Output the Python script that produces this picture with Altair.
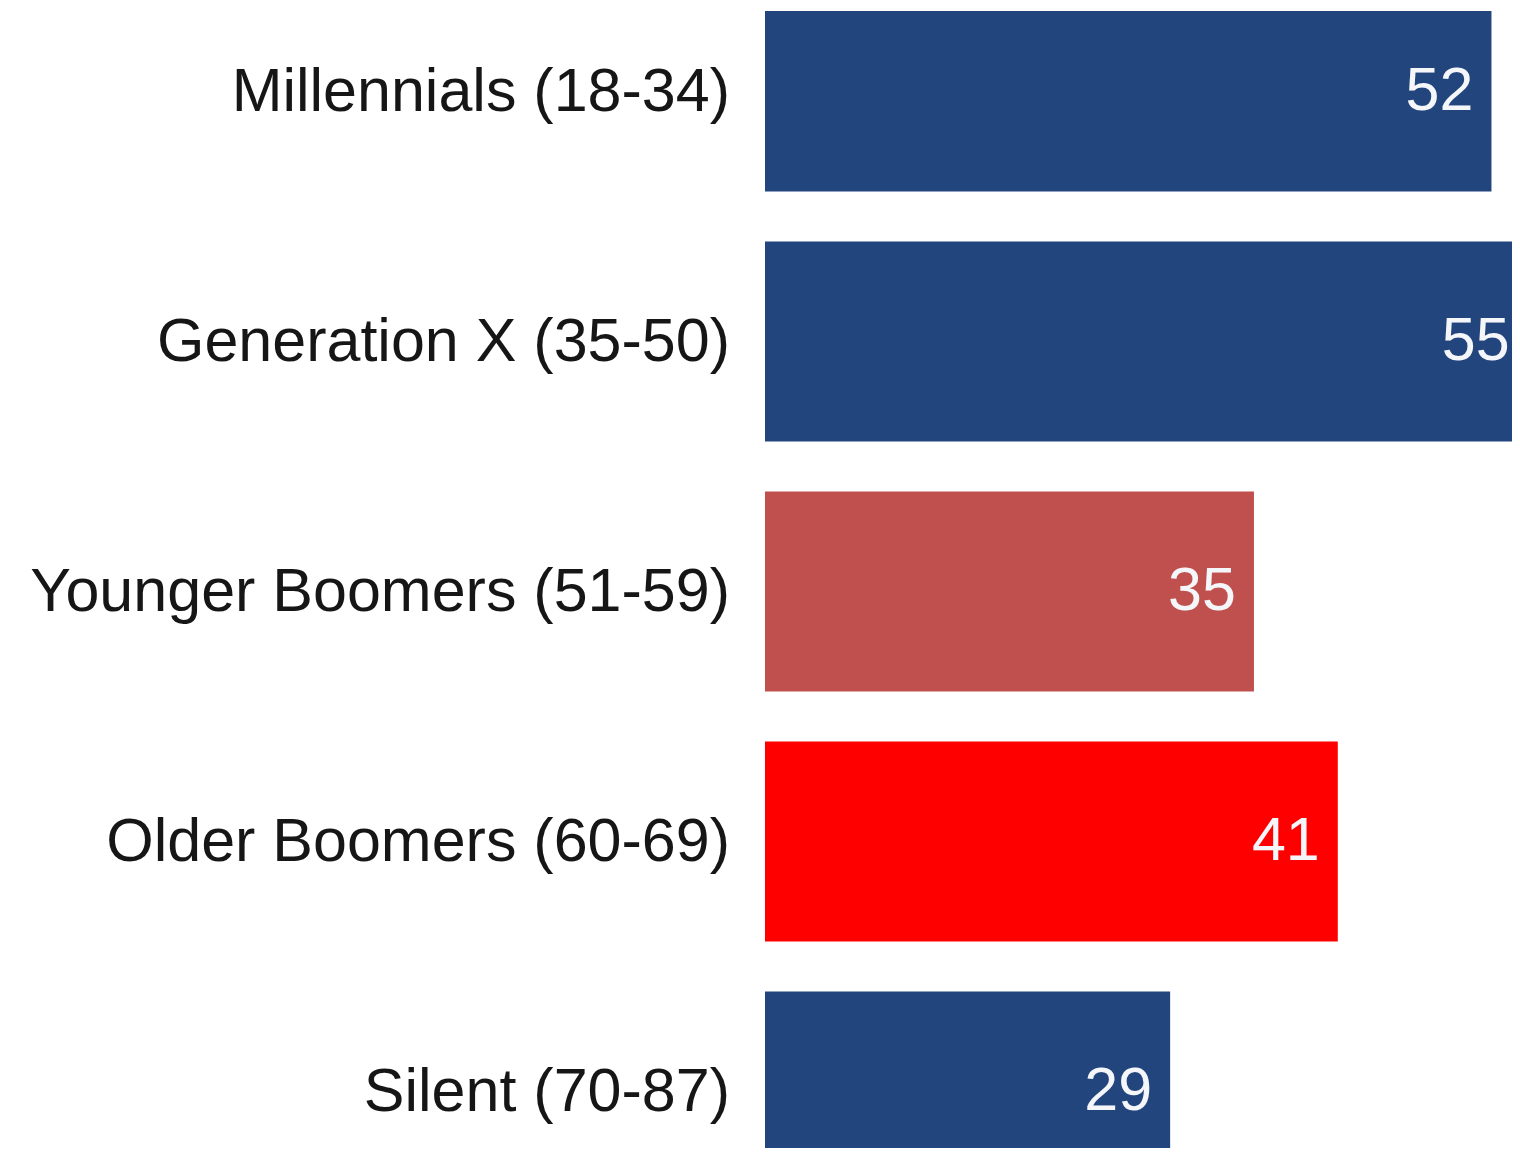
import altair as alt
import pandas as pd

categories = [
    "Millennials (18-34)",
    "Generation X (35-50)",
    "Younger Boomers (51-59)",
    "Older Boomers (60-69)",
    "Silent (70-87)",
]
values = [52, 55, 35, 41, 29]
bar_colors = ["#22457D", "#22457D", "#C0504D", "#FF0000", "#22457D"]

x_max = 53.47

df = pd.DataFrame({
    "category": categories,
    "value": values,
    "idx": list(range(len(categories))),
})

x_scale = alt.Scale(domain=[0, x_max], nice=False, zero=True)
y_scale = alt.Scale(domain=[-0.322, 4.226], nice=False, zero=False, reverse=True)
color_scale = alt.Scale(domain=categories, range=bar_colors)

base = alt.Chart(df).transform_calculate(
    lo="datum.idx - 0.4",
    hi="datum.idx + 0.4",
    tx=f"min(datum.value - 1.29, {x_max} - 0.17)",
)

bars = base.mark_bar(clip=True).encode(
    x=alt.X("value:Q", scale=x_scale, axis=None),
    x2=alt.datum(0),
    y=alt.Y("lo:Q", scale=y_scale, axis=None),
    y2="hi:Q",
    color=alt.Color("category:N", scale=color_scale, legend=None),
)

value_text = base.mark_text(
    align="right", baseline="middle", dy=0,
    font="Liberation Sans", fontSize=61, color="#F4F6FA",
).encode(
    x=alt.X("tx:Q", scale=x_scale, axis=None),
    y=alt.Y("idx:Q", scale=y_scale, axis=None),
    text="value:Q",
)

cat_text = base.mark_text(
    align="right", baseline="middle", dx=-35, dy=1,
    font="Liberation Sans", fontSize=61, color="#161616",
).encode(
    x=alt.value(0),
    y=alt.Y("idx:Q", scale=y_scale, axis=None),
    text="category:N",
)

chart = alt.layer(bars, value_text, cat_text).properties(
    width=747,
    height=1137,
    autosize=alt.AutoSizeParams(type="none"),
    padding={"left": 757, "top": 3, "right": 0, "bottom": 0},
).configure_view(stroke=None)

chart.save("out.html", embed_options={"renderer": "svg", "actions": False})
